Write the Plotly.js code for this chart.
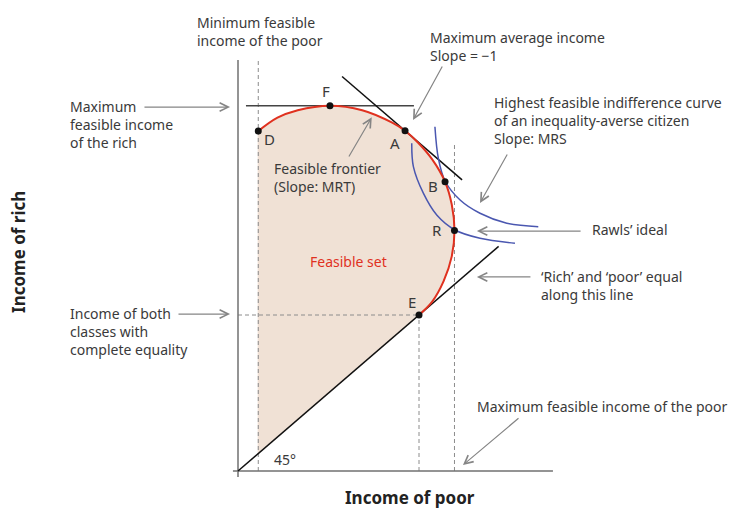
<!DOCTYPE html>
<html>
<head>
<meta charset="utf-8">
<script src="https://cdn.plot.ly/plotly-3.0.1.min.js"></script>
<style>html,body{margin:0;padding:0;background:#fff}#chart{width:729px;height:510px}</style>
</head>
<body>
<div id="chart"></div>
<script>
// ---- Data (income of poor = x, income of rich = y) ----
const frontierX = [1.12, 2.18, 3.30, 5.08, 6.86, 8.52, 9.23, 9.94, 10.72, 11.44, 11.81, 11.96, 11.81, 11.36, 10.72, 10.0];
const frontierY = [21.79, 22.65, 23.13, 23.42, 23.13, 22.33, 21.81, 21.06, 19.99, 18.54, 17.08, 15.42, 13.76, 12.17, 10.84, 10.0];

const icInnerX = [9.60, 9.69, 10.24, 10.98, 11.99, 13.37, 15.30];
const icInnerY = [21.01, 19.51, 17.81, 16.41, 15.45, 14.92, 14.60];
const icOuterX = [10.88, 11.07, 11.44, 12.27, 13.37, 14.85, 16.59];
const icOuterY = [22.07, 20.04, 18.59, 17.37, 16.52, 15.88, 15.66];

const pointLabels = ['D', 'F', 'A', 'B', 'R', 'E'];
const pointX = [1.12, 5.08, 9.23, 11.44, 11.96, 10.0];
const pointY = [21.79, 23.42, 21.81, 18.54, 15.42, 10.0];

const minPoor = 1.12;        // minimum feasible income of the poor
const maxPoor = 11.96;       // maximum feasible income of the poor (R)
const equalIncome = 10.0;    // income of both classes with complete equality (E)
const maxRich = 23.42;       // maximum feasible income of the rich (F)
const maxAvgSum = 31.04;     // x + y along the slope = -1 line through A
const equalLineEnd = 14.4;

// ---- Colours / fonts ----
const FONT = '"Noto Sans", "Open Sans", sans-serif';
const TXT = '#3a3a3a';
const ARROW = '#858585';
const DASH = '#8c8c8c';
const FILL = '#f0e1d5';

const traces = [];
const line = (x, y, color, width, dash, shape) => ({
  type: 'scatter', mode: 'lines', x, y, hoverinfo: 'skip', showlegend: false,
  line: {color, width, dash: dash || 'solid', shape: shape || 'linear', smoothing: 1}
});

// Feasible set: region between frontier and chord D-E, plus triangle under chord
traces.push({type: 'scatter', mode: 'lines', x: frontierX, y: frontierY, fill: 'toself',
  fillcolor: FILL, line: {width: 0, shape: 'spline', color: FILL}, hoverinfo: 'skip', showlegend: false});
traces.push({type: 'scatter', mode: 'lines',
  x: [minPoor, frontierX[0], frontierX[frontierX.length - 1], minPoor],
  y: [minPoor, frontierY[0], frontierY[frontierY.length - 1], minPoor], fill: 'toself',
  fillcolor: FILL, line: {width: 1.2, color: FILL}, hoverinfo: 'skip', showlegend: false});

// Dashed guide lines
traces.push(line([minPoor, minPoor], [0, 26.35], DASH, 1, '4px,3px'));
traces.push(line([equalIncome, equalIncome], [0, equalIncome], DASH, 1, '4px,3px'));
traces.push(line([maxPoor, maxPoor], [0, 21.03], DASH, 1, '4px,3px'));
traces.push(line([0, equalIncome], [equalIncome, equalIncome], DASH, 1, '4px,3px'));

// Axes
traces.push(line([0, 0], [-0.38, 26.35], '#707070', 1.5));
traces.push(line([-0.28, 17.4], [0, 0], '#707070', 1.5));

// 45 degree line
traces.push(line([0, equalLineEnd], [0, equalLineEnd], '#111', 1.5));
// Horizontal line at max rich income
traces.push(line([0.44, 9.72], [maxRich, maxRich], '#444', 1.5));
// Slope -1 tangent at A
traces.push(line([5.75, 12.38], [maxAvgSum - 5.75, maxAvgSum - 12.38], '#111', 1.5));

// Indifference curves
traces.push(line(icInnerX, icInnerY, '#4a57b0', 1.5, 'solid', 'spline'));
traces.push(line(icOuterX, icOuterY, '#4a57b0', 1.5, 'solid', 'spline'));

// Frontier
traces.push(line(frontierX, frontierY, '#e0311f', 2, 'solid', 'spline'));

// Points
traces.push({type: 'scatter', mode: 'markers', x: pointX, y: pointY, hoverinfo: 'skip', showlegend: false,
  marker: {color: '#111', size: 7}});

// ---- Annotations ----
const labelPos = {D: [1.73, 21.28], F: [4.84, 24.36], A: [8.67, 21.04], B: [10.76, 18.29], R: [11.01, 15.45], E: [9.63, 10.81]};
const ann = [];
pointLabels.forEach(l => ann.push({x: labelPos[l][0], y: labelPos[l][1], text: l, showarrow: false,
  xanchor: 'center', yanchor: 'middle', font: {family: FONT, size: 15, color: TXT}}));

const texts = [
  [-2.38, 28.17, 'Minimum feasible<br>income of the poor'],
  [10.50, 27.24, 'Maximum average income<br>Slope = \u22121'],
  [14.03, 22.5, 'Highest feasible indifference curve<br>of an inequality-averse citizen<br>Slope: MRS'],
  [-9.39, 22.22, 'Maximum<br>feasible income<br>of the rich'],
  [1.88, 18.83, 'Feasible frontier<br>(Slope: MRT)'],
  [19.45, 15.45, 'Rawls\u2019 ideal'],
  [16.65, 11.89, '\u2018Rich\u2019 and \u2018poor\u2019 equal<br>along this line'],
  [-9.39, 8.93, 'Income of both<br>classes with<br>complete equality'],
  [13.09, 4.12, 'Maximum feasible income of the poor'],
  [1.88, 0.71, '45\u00b0']
];
texts.forEach(t => ann.push({x: t[0], y: t[1], text: t[2], showarrow: false, xanchor: 'left', yanchor: 'middle',
  align: 'left', font: {family: FONT, size: 14, color: TXT}}));

ann.push({x: 6.08, y: 13.46, text: 'Feasible set', showarrow: false, xanchor: 'center', yanchor: 'middle',
  font: {family: FONT, size: 14, color: '#e0311f'}});

// Axis titles
ann.push({x: -12.10, y: 14.04, text: 'Income of rich', textangle: -90, showarrow: false, borderpad: 0,
  font: {family: FONT, size: 17, color: '#222', weight: 'bold'}});
ann.push({x: 9.50, y: -1.73, text: 'Income of poor', showarrow: false, borderpad: 0,
  font: {family: FONT, size: 17, color: '#222', weight: 'bold'}});

// Arrows: [headX, headY, tailX, tailY]
const arrows = [
  [-0.44, 23.33, -5.25, 23.33],
  [-0.44, 10.06, -3.37, 10.06],
  [7.39, 22.67, 6.08, 20.06],
  [9.67, 22.50, 11.33, 26.03],
  [13.37, 17.18, 14.92, 20.38],
  [13.20, 15.38, 19.01, 15.38],
  [13.20, 12.44, 16.24, 12.44],
  [12.43, 0.38, 15.58, 3.46]
];
arrows.forEach(a => ann.push({x: a[0], y: a[1], ax: a[2], ay: a[3], axref: 'x', ayref: 'y', xref: 'x', yref: 'y',
  text: '', showarrow: true, arrowhead: 5, arrowsize: 1.4, arrowwidth: 1.2, arrowcolor: ARROW, standoff: 0}));

const layout = {
  width: 729, height: 510,
  margin: {l: 0, r: 0, t: 0, b: 0},
  paper_bgcolor: '#fff', plot_bgcolor: '#fff',
  xaxis: {range: [-13.149, 27.127], visible: false, fixedrange: true},
  yaxis: {range: [-2.5, 30.192], visible: false, fixedrange: true},
  annotations: ann,
  showlegend: false
};

Plotly.newPlot('chart', traces, layout, {displayModeBar: false, staticPlot: true});
</script>
</body>
</html>
